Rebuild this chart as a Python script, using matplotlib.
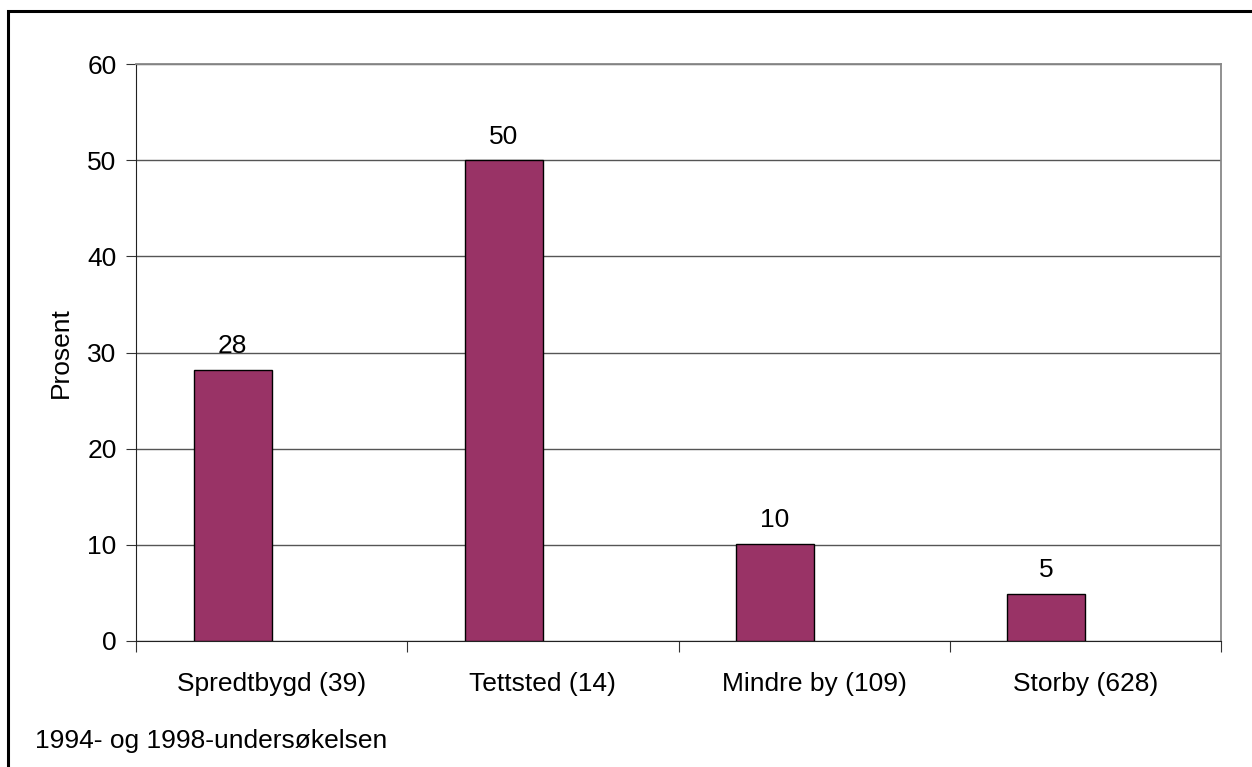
import matplotlib
matplotlib.use("Agg")
import matplotlib.pyplot as plt
from matplotlib.patches import Rectangle
from matplotlib.ticker import FixedLocator

categories = ["Spredtbygd (39)", "Tettsted (14)", "Mindre by (109)", "Storby (628)"]
values = [28.2, 50.0, 10.1, 4.9]
yticks = [0, 10, 20, 30, 40, 50, 60]

plt.rcParams['font.family'] = ['Liberation Sans', 'DejaVu Sans']
FS = 19

W, H = 1252, 767
fig = plt.figure(figsize=(W/100, H/100), dpi=100)
fig.patch.set_facecolor('white')

# outer frame (right/bottom clipped off image)
fig.add_artist(Rectangle((8/W, -0.05), 1.2, (H-11)/H + 0.05, transform=fig.transFigure,
                         fill=False, edgecolor='black', linewidth=2.2))

left, right, top, bottom = 136, 1221, 64, 641
ax = fig.add_axes([left/W, 1-bottom/H, (right-left)/W, (bottom-top)/H])

bw = 0.2876
xs = [i - bw/2 for i in range(len(categories))]
ax.bar(xs, values, width=bw, color='#993366', edgecolor='black', linewidth=1.0, zorder=3)
for x, v in zip(xs, values):
    ax.text(x, v + 1.2, f"{v:.0f}", ha='center', va='bottom', fontsize=FS, zorder=4)

ax.set_xlim(-0.5, len(categories) - 0.5)
ax.set_ylim(0, 60)
ax.set_yticks(yticks)
ax.set_yticklabels([str(t) for t in yticks], fontsize=FS)
ax.yaxis.grid(True, color='#555555', linewidth=1.0, zorder=0)
ax.set_axisbelow(True)

ax.xaxis.set_major_locator(FixedLocator([i - 0.5 for i in range(len(categories) + 1)]))
ax.set_xticklabels([])
ax.xaxis.set_minor_locator(FixedLocator(list(range(len(categories)))))
ax.set_xticklabels(categories, minor=True, fontsize=FS)
ax.tick_params(axis='x', which='major', direction='out', length=8, color='#333333')
ax.tick_params(axis='x', which='minor', length=0, pad=22)
ax.tick_params(axis='y', direction='out', length=7, pad=7, color='#333333')

for s in ['top', 'right']:
    ax.spines[s].set_color('#888888')
    ax.spines[s].set_linewidth(1.3)
ax.spines['left'].set_color('#222222')
ax.spines['bottom'].set_color('#222222')

ax.set_ylabel("Prosent", fontsize=FS, labelpad=10)

fig.text(35/W, 1-741/H, "1994- og 1998-undersøkelsen", fontsize=FS, va='center', ha='left')

fig.savefig("out.png", dpi=100)
